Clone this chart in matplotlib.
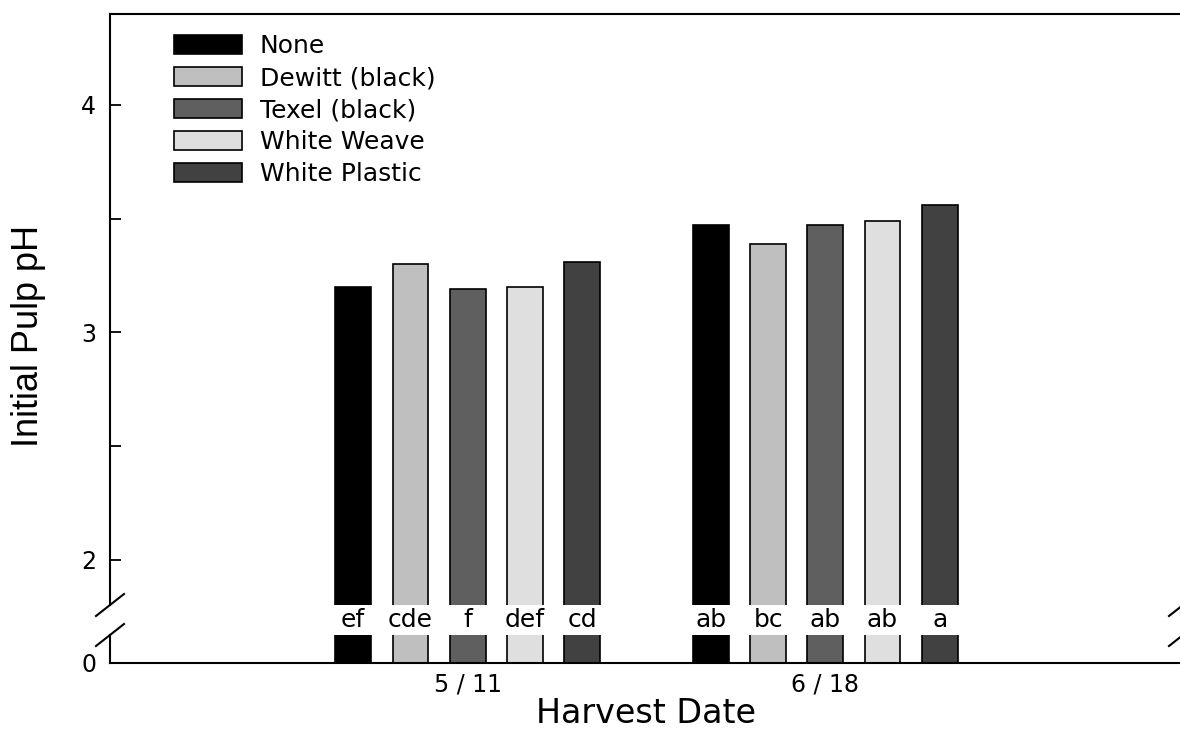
import matplotlib
matplotlib.use('Agg')
import matplotlib.pyplot as plt
import numpy as np
from matplotlib.transforms import blended_transform_factory

plt.rcParams['font.family'] = ['DejaVu Sans']

# ── Data ──────────────────────────────────────────────────────────────────
dates = ['5 / 11', '6 / 18']
treatments = ['None', 'Dewitt (black)', 'Texel (black)', 'White Weave', 'White Plastic']
ph_values = {
    'None':           [3.20, 3.47],
    'Dewitt (black)': [3.30, 3.39],
    'Texel (black)':  [3.19, 3.47],
    'White Weave':    [3.20, 3.49],
    'White Plastic':  [3.31, 3.56],
}
letters = {
    'None':           ['ef', 'ab'],
    'Dewitt (black)': ['cde', 'bc'],
    'Texel (black)':  ['f', 'ab'],
    'White Weave':    ['def', 'ab'],
    'White Plastic':  ['cd', 'a'],
}
colors = ['#000000', '#bfbfbf', '#5f5f5f', '#dfdfdf', '#414141']

# ── Layout ────────────────────────────────────────────────────────────────
fig = plt.figure(figsize=(11.8, 7.29), dpi=100)
W, H = 1180, 729
left, right = 110 / W, 1183 / W
ax_top = fig.add_axes([left, 1 - 605 / H, right - left, (605 - 14) / H])
ax_bot = fig.add_axes([left, 1 - 663 / H, right - left, (663 - 635) / H])

x = np.arange(1, len(dates) + 1)
offsets = np.linspace(-0.32, 0.32, len(treatments))
width = 0.1

for ax in (ax_top, ax_bot):
    for i, t in enumerate(treatments):
        ax.bar(x + offsets[i], ph_values[t], width, color=colors[i],
               edgecolor='black', linewidth=1.2, label=t)
    ax.set_xlim(0, 3)
    ax.spines['right'].set_visible(False)
    for s in ax.spines.values():
        s.set_linewidth(1.5)

ax_top.set_ylim(1.8, 4.4)
ax_bot.set_ylim(0, 1)
ax_top.spines['bottom'].set_visible(False)
ax_bot.spines['top'].set_visible(False)

ax_top.set_yticks([2, 3, 4])
ax_top.set_yticks([2.5, 3.5], minor=True)
ax_top.tick_params(axis='y', which='both', direction='in', labelsize=17,
                   width=1.3, length=8, pad=10)
ax_top.tick_params(axis='x', bottom=False, labelbottom=False)

ax_bot.set_yticks([0])
ax_bot.tick_params(axis='y', direction='in', length=0, labelsize=17, pad=10)
ax_bot.set_xticks(x)
ax_bot.set_xticklabels(dates)
ax_bot.tick_params(axis='x', length=0, labelsize=17, pad=7)

ax_bot.set_xlabel('Harvest Date', fontsize=24, labelpad=0)
fig.text(0.024, 1 - 336 / H, 'Initial Pulp pH', rotation=90, fontsize=26,
         ha='center', va='center', family=['Liberation Sans', 'DejaVu Sans'])

# significance letters in the axis break
trans = blended_transform_factory(ax_top.transData, fig.transFigure)
for i, t in enumerate(treatments):
    for j, xi in enumerate(x):
        ax_top.text(xi + offsets[i], 1 - 620 / H, letters[t][j], transform=trans,
                    ha='center', va='center', fontsize=18)

# break marks
for xf in (left, right):
    for yp in (605, 635):
        yf = 1 - yp / H
        fig.add_artist(plt.Line2D([xf - 14 / W, xf + 14 / W], [yf - 11 / H, yf + 11 / H],
                                  color='black', linewidth=1.5))

ax_top.legend(loc='upper left', bbox_to_anchor=(0.06, 0.966), frameon=False,
              fontsize=18, handlelength=2.72, handleheight=0.76, handletextpad=0.7,
              labelspacing=0.32, borderaxespad=0, borderpad=0)

fig.savefig('out.png', dpi=100)
